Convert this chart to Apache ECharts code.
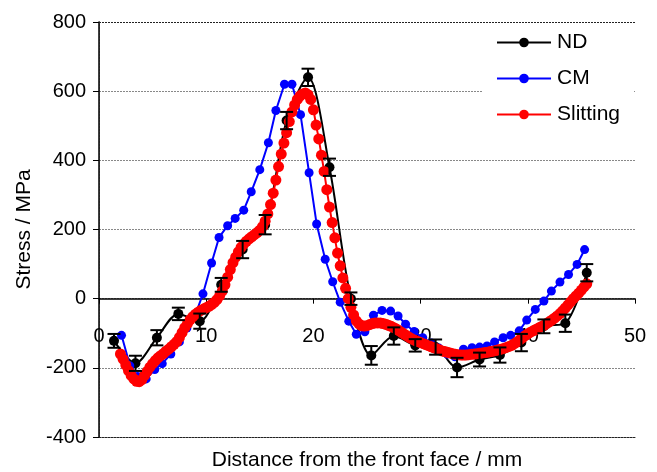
<!DOCTYPE html>
<html>
<head>
<meta charset="utf-8">
<script src="https://cdn.jsdelivr.net/npm/echarts@6/dist/echarts.min.js"></script>
<style>
html, body { margin: 0; padding: 0; background: #fff; }
#main { width: 657px; height: 472px; }
</style>
</head>
<body>
<div id="main"></div>
<script>
// ND (neutron diffraction) points with error bars
var ndX = [1.4, 3.4, 5.4, 7.4, 9.4, 11.4, 13.4, 15.5, 17.5, 19.5, 21.5, 23.5,
           25.4, 27.5, 29.5, 31.4, 33.4, 35.5, 37.4, 39.4, 41.5, 43.5, 45.5];
var ndY = [-122, -187, -113, -44, -65, 40, 142, 214, 515, 640, 380, 0,
           -164, -108, -135, -140, -199, -176, -163, -127, -80, -71, 75];
var ndErr = [20, 22, 22, 18, 22, 20, 25, 28, 25, 25, 25, 18,
             27, 25, 18, 22, 28, 20, 22, 25, 20, 25, 25];

// CM (contour method)
var cmX = [2.1, 2.9, 3.6, 4.4, 5.2, 5.9, 6.7, 7.5, 8.2, 9.0,
           9.7, 10.5, 11.2, 12.0, 12.7, 13.5, 14.2, 15.0, 15.8, 16.5,
           17.3, 18.0, 18.8, 19.6, 20.3, 21.1, 21.8, 22.5, 23.3, 24.0,
           24.8, 25.6, 26.4, 27.2, 27.9, 28.6, 29.4, 30.2, 31.0, 31.7,
           32.5, 33.2, 34.0, 34.8, 35.5, 36.2, 36.9, 37.7, 38.4, 39.2,
           39.9, 40.7, 41.5, 42.2, 43.0, 43.8, 44.6, 45.3];
var cmY = [-106, -195, -225, -232, -205, -188, -160, -125, -85, -45,
           14, 103, 177, 211, 232, 256, 309, 373, 451, 544,
           620, 620, 532, 364, 216, 114, 49, -10, -65, -103,
           -96, -48, -34, -36, -50, -74, -95, -113, -128, -143,
           -160, -168, -146, -142, -140, -137, -125, -113, -106, -93,
           -62, -31, -7, 22, 48, 70, 99, 142];

// Slitting, sampled every 0.25 mm from 2 mm
var slitStart = 2, slitStep = 0.25;
var slitY = [
  -160, -175, -192, -208, -222, -232, -239, -240, -234, -222,
  -210, -198, -188, -179, -171, -165, -159, -152, -146, -139,
  -132, -124, -112, -98, -84, -72, -61, -52, -45, -39,
  -34, -30, -26, -22, -17, -11, -3, 8, 22, 40,
  62, 84, 104, 120, 135, 148, 158, 166, 173, 179,
  185, 191, 198, 208, 224, 245, 272, 305, 343, 382,
  418, 450, 480, 512, 540, 560, 576, 586, 592, 595,
  590, 576, 546, 502, 462, 415, 368, 315, 265, 220,
  176, 132, 95, 60, 30, 0, -25, -47, -64, -73,
  -78, -79, -78, -75, -72, -70, -70, -70, -72, -74,
  -77, -80, -84, -88, -93, -98, -103, -108, -113, -117,
  -121, -124, -127, -130, -133, -136, -139, -142, -145, -148,
  -151, -153, -155, -157, -159, -161, -162, -163, -163, -163,
  -162, -161, -160, -159, -158, -157, -156, -155, -153, -152,
  -150, -148, -146, -144, -141, -138, -135, -130, -125, -119,
  -113, -107, -102, -97, -93, -89, -85, -81, -77, -72,
  -67, -62, -56, -50, -43, -35, -27, -18, -9, 0,
  8, 16, 25, 34, 43
];

var xMin = 0, xMax = 50, xStep = 10;
var yMin = -400, yMax = 800, yStep = 200;

var FONT = 'Liberation Sans, Arial, sans-serif';
var W = 657, H = 472;
var gridTop = 22, gridBottom = 35;
var gridH = H - gridTop - gridBottom;
// shift the labelled x axis up from the bottom edge to the y = 0 line
var zeroOffset = -gridH * (0 - yMin) / (yMax - yMin);

var ndData = ndX.map(function (x, i) { return [x, ndY[i]]; });
var ndErrData = ndX.map(function (x, i) { return [x, ndY[i], ndErr[i]]; });
var cmData = cmX.map(function (x, i) { return [x, cmY[i]]; });
var slitData = slitY.map(function (y, i) { return [slitStart + i * slitStep, y]; });

var myChart = echarts.init(document.getElementById('main'));
var option = {
    animation: false,
    backgroundColor: '#fff',
    textStyle: { fontFamily: FONT, color: '#000' },
    grid: { left: 99, right: 22, top: gridTop, bottom: gridBottom, outerBoundsMode: 'none' },
    legend: {
        data: ['ND', 'CM', 'Slitting'],
        orient: 'vertical',
        left: 483,
        top: 23,
        padding: [9, 14, 9, 13],
        itemGap: 15,
        itemWidth: 54,
        itemHeight: 12,
        backgroundColor: '#fff',
        textStyle: { fontFamily: FONT, fontSize: 21, color: '#000', padding: [0, 0, 0, 1] }
    },
    xAxis: [{
        type: 'value',
        position: 'bottom',
        offset: zeroOffset,
        min: xMin, max: xMax, interval: xStep,
        axisLine: { onZero: false, lineStyle: { color: '#000', width: 1.5 } },
        axisTick: { show: true, inside: false, length: 5, lineStyle: { color: '#000', width: 1 } },
        axisLabel: { fontSize: 20, color: '#000', margin: 28, fontFamily: FONT },
        splitLine: { show: false }
    }, {
        type: 'value',
        position: 'bottom',
        min: xMin, max: xMax, interval: xStep,
        axisLine: { onZero: false, lineStyle: { color: '#222', width: 1, type: [2, 1] } },
        axisTick: { show: false },
        axisLabel: { show: false },
        splitLine: { show: false },
        name: 'Distance from the front face / mm',
        nameLocation: 'middle',
        nameGap: 13,
        nameTextStyle: { fontSize: 21, color: '#000', fontFamily: FONT }
    }],
    yAxis: [{
        type: 'value',
        min: yMin, max: yMax, interval: yStep,
        axisLine: { lineStyle: { color: '#000', width: 1.5 } },
        axisTick: { show: true, inside: false, length: 6, lineStyle: { color: '#000', width: 1 } },
        axisLabel: { fontSize: 20, color: '#000', margin: 13, fontFamily: FONT },
        splitLine: {
            show: true,
            lineStyle: {
                color: ['#222', '#888', '#888', '#888', '#888', '#888', '#222'],
                width: 1,
                type: [2, 1]
            }
        },
        name: 'Stress / MPa',
        nameLocation: 'middle',
        nameGap: 64,
        nameTextStyle: { fontSize: 21, color: '#000', fontFamily: FONT }
    }, {
        type: 'value',
        position: 'right',
        min: yMin, max: yMax, interval: yStep,
        axisLine: { show: true, lineStyle: { color: '#222', width: 1, type: [2, 1] } },
        axisTick: { show: false },
        axisLabel: { show: false },
        splitLine: { show: false }
    }],
    series: [{
        name: 'ND',
        type: 'line',
        data: ndData,
        smooth: 0.3,
        symbol: 'circle',
        symbolSize: 10,
        z: 2,
        itemStyle: { color: '#000' },
        lineStyle: { color: '#000', width: 2 }
    }, {
        name: 'CM',
        type: 'line',
        data: cmData,
        symbol: 'circle',
        symbolSize: 9,
        z: 3,
        itemStyle: { color: '#0000ff' },
        lineStyle: { color: '#0000ff', width: 2 }
    }, {
        name: 'Slitting',
        type: 'line',
        data: slitData,
        smooth: true,
        symbol: 'circle',
        symbolSize: 11,
        z: 4,
        itemStyle: { color: '#ff0000' },
        lineStyle: { color: '#ff0000', width: 2 }
    }, {
        name: 'ND error',
        type: 'custom',
        data: ndErrData,
        z: 5,
        renderItem: function (params, api) {
            var x = api.value(0), y = api.value(1), e = api.value(2);
            var top = api.coord([x, y + e]);
            var bot = api.coord([x, y - e]);
            var hw = 6.5;
            var st = { stroke: '#000', lineWidth: 2 };
            return {
                type: 'group',
                children: [
                    { type: 'line', shape: { x1: top[0], y1: top[1], x2: bot[0], y2: bot[1] }, style: st },
                    { type: 'line', shape: { x1: top[0] - hw, y1: top[1], x2: top[0] + hw, y2: top[1] }, style: st },
                    { type: 'line', shape: { x1: bot[0] - hw, y1: bot[1], x2: bot[0] + hw, y2: bot[1] }, style: st }
                ]
            };
        }
    }]
};
myChart.setOption(option);
</script>
</body>
</html>
